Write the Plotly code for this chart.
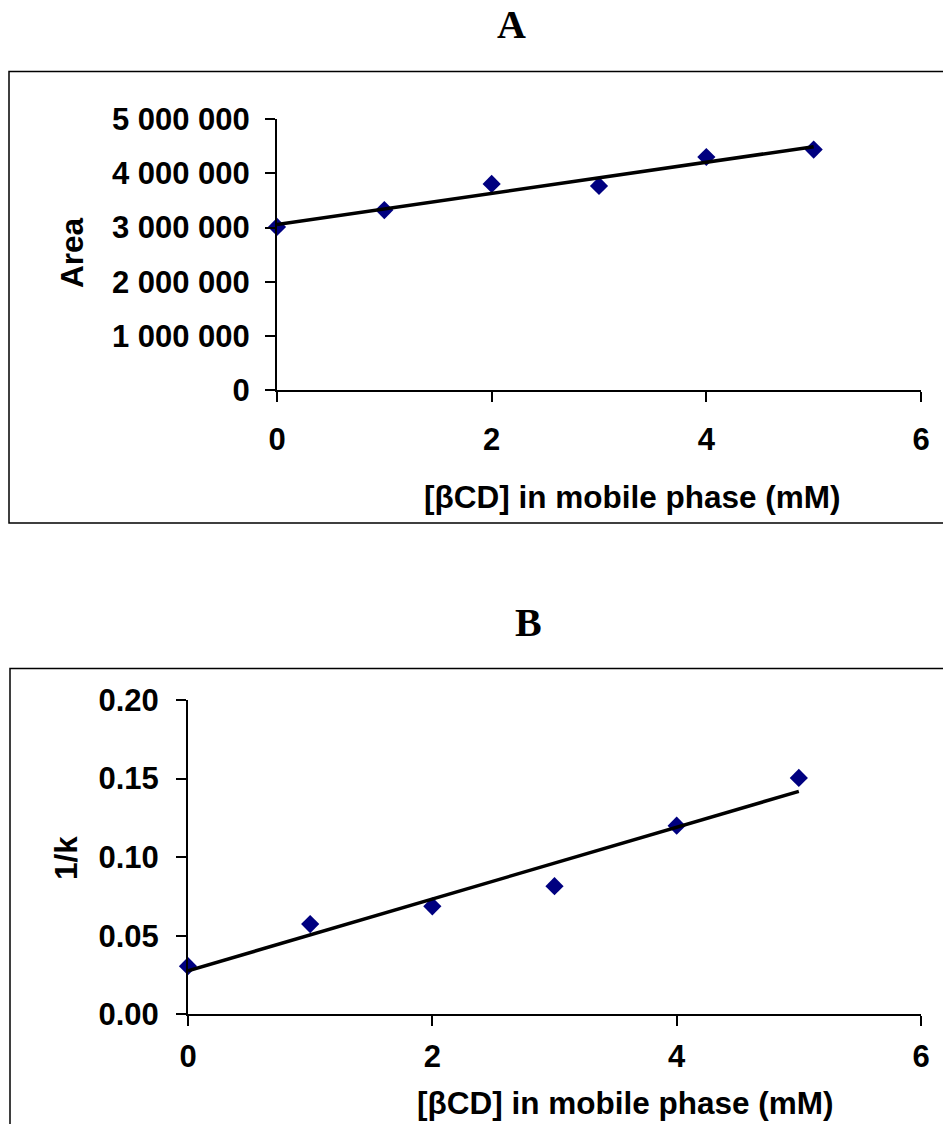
import numpy as np
import plotly.graph_objects as go

# ---- data ----
conc_mM = [0, 1, 2, 3, 4, 5]
area = [3012000, 3323000, 3807000, 3770000, 4304000, 4441000]
inv_k = [0.0306, 0.0574, 0.0687, 0.0815, 0.120, 0.1504]

x_ticks = [0, 2, 4, 6]
area_ticks = [0, 1000000, 2000000, 3000000, 4000000, 5000000]
area_ticktext = ["0", "1 000 000", "2 000 000", "3 000 000", "4 000 000", "5 000 000"]
invk_ticks = [0.0, 0.05, 0.10, 0.15, 0.20]
invk_ticktext = ["0.00", "0.05", "0.10", "0.15", "0.20"]

x_title = "[βCD] in mobile phase (mM)"

W, H = 943, 1124
def px(x):
    return x / W
def py(y):
    return 1 - y / H

FONT = "Liberation Sans, Arial, sans-serif"
NAVY = "#000080"

# linear trendlines from the data
xa = np.array(conc_mM, dtype=float)
ka, ba = np.polyfit(xa, np.array(area, dtype=float), 1)
kb, bb = np.polyfit(xa, np.array(inv_k, dtype=float), 1)
trend_x = [conc_mM[0], conc_mM[-1]]

fig = go.Figure()

fig.add_trace(go.Scatter(x=conc_mM, y=area, mode="markers",
                         marker=dict(symbol="diamond", size=14, color=NAVY),
                         cliponaxis=False, xaxis="x", yaxis="y", showlegend=False))
fig.add_trace(go.Scatter(x=trend_x, y=[ka * v + ba for v in trend_x], mode="lines",
                         line=dict(color="black", width=3.5),
                         cliponaxis=False, xaxis="x", yaxis="y", showlegend=False))

fig.add_trace(go.Scatter(x=conc_mM, y=inv_k, mode="markers",
                         marker=dict(symbol="diamond", size=14, color=NAVY),
                         cliponaxis=False, xaxis="x2", yaxis="y2", showlegend=False))
fig.add_trace(go.Scatter(x=trend_x, y=[kb * v + bb for v in trend_x], mode="lines",
                         line=dict(color="black", width=3.5),
                         cliponaxis=False, xaxis="x2", yaxis="y2", showlegend=False))

tickfont = dict(family=FONT, size=31, color="black", weight="bold")
axis_common = dict(showline=True, linecolor="black", linewidth=2,
                   ticks="outside", ticklen=10, tickwidth=2, tickcolor="black",
                   showgrid=False, zeroline=False, tickfont=tickfont, fixedrange=True,
                   automargin=False)

fig.update_layout(
    template="none",
    width=W, height=H, autosize=False,
    margin=dict(l=0, r=0, t=0, b=0, pad=0),
    paper_bgcolor="white", plot_bgcolor="white",
    hovermode=False,
    xaxis=dict(domain=[px(277), px(921)], range=[0, 6], tickvals=x_ticks,
               anchor="y", ticklabelstandoff=11, **axis_common),
    yaxis=dict(domain=[py(390), py(119.3)], range=[0, 5000000], tickvals=area_ticks,
               ticktext=area_ticktext, anchor="x", ticklabelstandoff=9, **axis_common),
    xaxis2=dict(domain=[px(188), px(921)], range=[0, 6], tickvals=x_ticks,
                anchor="y2", ticklabelstandoff=3, **axis_common),
    yaxis2=dict(domain=[py(1014.3), py(700)], range=[0, 0.2], tickvals=invk_ticks,
                ticktext=invk_ticktext, anchor="x2", ticklabelstandoff=11, **axis_common),
)

# frames around panels
fig.add_shape(type="rect", xref="paper", yref="paper",
              x0=px(9), x1=1.02, y0=py(523), y1=py(71.5),
              line=dict(color="black", width=1.5), fillcolor="rgba(0,0,0,0)", layer="below")
fig.add_shape(type="rect", xref="paper", yref="paper",
              x0=px(10), x1=1.02, y0=-0.05, y1=py(668.5),
              line=dict(color="black", width=1.5), fillcolor="rgba(0,0,0,0)", layer="below")

titlefont = dict(family=FONT, size=31.5, color="black", weight="bold")
serif = "Liberation Serif, Times New Roman, serif"
ann = [
    dict(text="A", x=px(511), y=py(25), font=dict(family=serif, size=40, color="black", weight="bold")),
    dict(text="B", x=px(528), y=py(622), font=dict(family=serif, size=40, color="black", weight="bold")),
    dict(text=x_title, x=px(632), y=py(497), font=titlefont),
    dict(text=x_title, x=px(625), y=py(1103), font=titlefont),
    dict(text="Area", x=px(72), y=py(253), font=titlefont, textangle=-90),
    dict(text="1/k", x=px(66), y=py(858), font=titlefont, textangle=-90),
]
for a in ann:
    fig.add_annotation(xref="paper", yref="paper", xanchor="center", yanchor="middle",
                       showarrow=False, **a)

# remove the default 8px page margin so the figure sits at the window's top-left
fig.write_html("out.html",
               config={"displayModeBar": False},
               post_script="document.body.style.margin='0px';document.body.style.overflow='hidden';")
